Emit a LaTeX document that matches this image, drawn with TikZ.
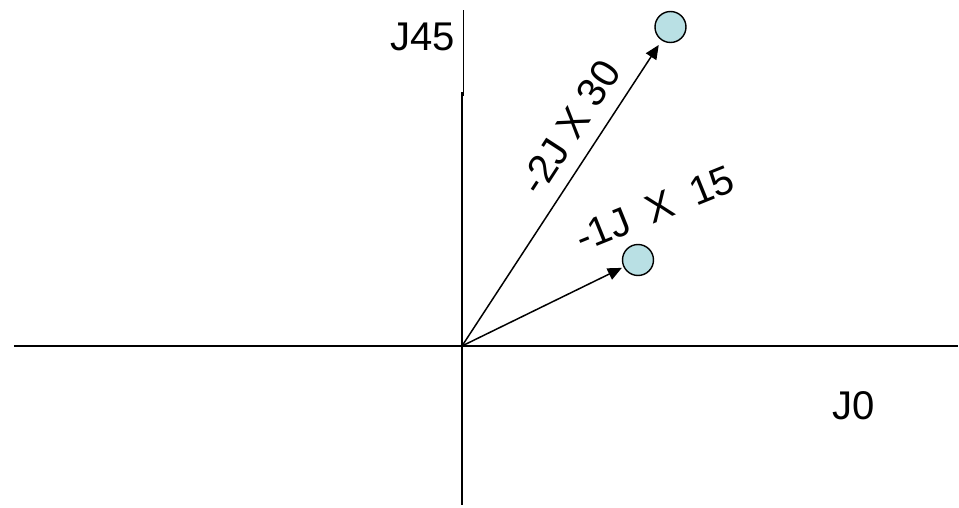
\documentclass[tikz,border=0pt]{standalone}
\usepackage{fontspec}
\setmainfont{Liberation Sans}
\usepackage{tikz}
\usetikzlibrary{arrows.meta}
\definecolor{dotblue}{RGB}{185,224,228}

\tikzset{
  axis/.style={line width=1.1pt},
  vec/.style={line width=0.85pt,-{Triangle[length=8pt,width=7pt]}},
  dot/.style={circle,draw,line width=0.8pt,fill=dotblue,minimum size=0.62cm,inner sep=0pt},
  lbl/.style={font=\fontsize{22.8}{27}\selectfont,inner sep=0pt}
}

\begin{document}
\begin{tikzpicture}
  \useasboundingbox (-9.24,-3.24) rectangle (9.94,6.92);

  % Achsen
  \draw[axis] (-8.96,0) -- (9.92,0);
  \draw[axis] (0,-3.18) -- (0,5.08);
  \draw[line width=0.5pt] (0.02,5.0) -- (0.02,6.72);
  \coordinate (o) at (0,0);

  % Zeiger
  \node[dot] (p30) at (4.17,6.38) {};
  \node[dot] (p15) at (3.52,1.72) {};
  \draw[vec,shorten >=3pt] (o) -- (p30);
  \draw[vec,shorten >=1pt] (o) -- (p15);

  % Beschriftung
  \node[lbl] (j45) at (-0.79,6.18) {J45};
  \node[lbl] (j0) at (7.84,-1.2) {J0};
  \node[lbl,rotate=57] (l30) at (2.16,4.38) {-2J X 30};
  \node[lbl,rotate=22] (l15) at (3.86,2.74) {-1J\hspace{0.18cm} X\hspace{0.18cm} 15};
\end{tikzpicture}
\end{document}
